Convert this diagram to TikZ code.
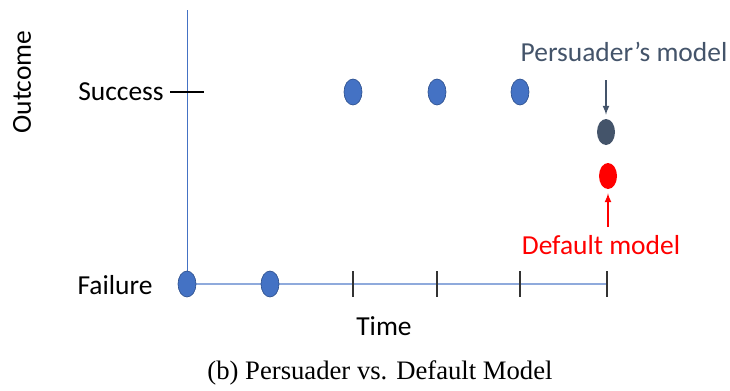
\documentclass[tikz,border=0pt]{standalone}
\usepackage{fontspec}
\setmainfont{Carlito}
\newfontfamily\capfont{Liberation Serif}
\usetikzlibrary{shapes.geometric}
\definecolor{dotblue}{HTML}{4472C4}
\definecolor{dotedge}{HTML}{2F528F}
\definecolor{slate}{HTML}{44546A}
\definecolor{axisblue}{HTML}{8FAADC}
\definecolor{tickgray}{HTML}{333333}
\begin{document}
\begin{tikzpicture}[x=0.75pt, y=-0.75pt,
    dot/.style={ellipse, minimum width=13.5pt, minimum height=19.5pt, inner sep=0pt},
    lbl/.style={font=\fontsize{20.6}{24}\selectfont, inner sep=0pt}]
  \useasboundingbox (0,0) rectangle (730,390);

  % axes
  \draw[dotblue, line width=0.6pt] (187,10) -- (187,285);
  \draw[axisblue, line width=1pt] (187,284) -- (607,284);
  \draw[black, line width=1pt] (170,92) -- (204,92);
  \foreach \x in {353,437,520,607}
    \draw[tickgray, line width=1.3pt] (\x,271) -- (\x,297);

  % labels
  \node[lbl, rotate=90] (outcome) at (22,82) {Outcome};
  \node[lbl, anchor=east] (success) at (164,92) {Success};
  \node[lbl] (failure) at (115,285) {Failure};
  \node[lbl] (time) at (384,326) {Time};

  % observed outcomes
  \foreach \x/\y [count=\i] in {187/284,270/284,353/92,437/92,520/92}
    \node[dot, fill=dotblue, draw=dotedge, line width=0.5pt] (obs\i) at (\x,\y) {};

  % predictions
  \node[dot, fill=slate] (persdot) at (606,132) {};
  \node[dot, fill=red] (defdot) at (608,176) {};
  \node[lbl, text=slate] (pers) at (624,52) {Persuader's model};
  \node[lbl, text=red] (default) at (601,245) {Default model};
  \draw[slate, line width=1.3pt, -latex] (persdot.north |- 0,80) -- ([yshift=3pt]persdot.north);
  \draw[red, line width=1.3pt, -latex] (defdot.south |- 0,227) -- ([yshift=-3pt]defdot.south);

  \node[font=\capfont\fontsize{20}{24}\selectfont, inner sep=0pt] (caption) at (380,373)
    {(b) Persuader vs. Default Model};
\end{tikzpicture}
\end{document}
